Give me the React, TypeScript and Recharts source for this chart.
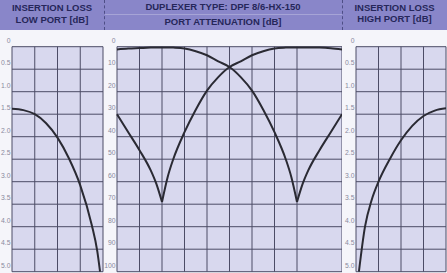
import React from "react";
import { LineChart, Line, XAxis, YAxis, CartesianGrid } from "recharts";

// insertion loss, low port (x in grid cells 0..4, dB)
const lowX = [0, 0.5, 1, 1.5, 2, 2.5, 3, 3.5, 3.75, 3.87];
const lowLoss = [1.38, 1.41, 1.5, 1.7, 2.02, 2.48, 3.08, 3.95, 4.55, 5.0];

// port attenuation (x in grid cells 0..10, dB)
const midX = [0, 0.5, 1, 1.5, 1.75, 2, 2.25, 2.5, 3, 3.5, 4, 4.5, 5, 5.5, 6, 6.5, 7, 7.5, 7.75, 8, 8.25, 8.5, 9, 9.5, 10];
const portA = [1.2, 0.8, 0.6, 0.4, 0.35, 0.3, 0.3, 0.4, 0.8, 2.0, 3.8, 6.5, 9, 13.5, 19.5, 28, 38, 50, 58, 69, 61, 55, 46, 38, 30];
const portB = [30, 38, 46, 55, 61, 69, 58, 50, 38, 28, 19.5, 13.5, 9, 6.5, 3.8, 2.0, 0.8, 0.4, 0.3, 0.3, 0.3, 0.3, 0.4, 0.7, 1.2];
const notchA = 8;
const notchB = 2;

// insertion loss, high port
const highX = [0.13, 0.4, 0.7, 1, 1.5, 2, 2.5, 3, 3.5, 4];
const highLoss = [5.0, 4.0, 3.4, 3.0, 2.5, 2.08, 1.76, 1.54, 1.42, 1.37];

const lossTicks = [0, 0.5, 1, 1.5, 2, 2.5, 3, 3.5, 4, 4.5, 5];
const attTicks = [0, 10, 20, 30, 40, 50, 60, 70, 80, 90, 100];
const sideCols = [0, 1, 2, 3, 4];
const midCols = [0, 1, 2, 3, 4, 5, 6, 7, 8, 9, 10];

const lowData = lowX.map((x, i) => ({ x, v: lowLoss[i] }));
const highData = highX.map((x, i) => ({ x, v: highLoss[i] }));
const midData = midX.map((x, i) => ({
  x,
  aL: x <= notchA ? portA[i] : null,
  aR: x >= notchA ? portA[i] : null,
  bL: x <= notchB ? portB[i] : null,
  bR: x >= notchB ? portB[i] : null,
}));

const FONT = "'Liberation Sans', Arial, sans-serif";
const HEAD_BG = "#8986c9";
const HEAD_TXT = "#26275a";
const PLOT_BG = "#d8d8ee";
const GRID = "#4c4c66";
const CURVE = "#2a2a33";

const makeTick = (fmt: (v: number) => string) => (props: any) => (
  <text
    x={props.x}
    y={props.y - 6.5}
    textAnchor="end"
    dominantBaseline="central"
    fontSize={6.8}
    fontFamily={FONT}
    fill="#8a8a9e"
  >
    {fmt(props.payload.value)}
  </text>
);

const lossTick = makeTick((v) => (v === 0 ? "0" : v.toFixed(1)));
const attTick = makeTick((v) => String(v));

const curve = (key: string) => (
  <Line
    key={key}
    dataKey={key}
    type="monotone"
    stroke={CURVE}
    strokeWidth={2}
    dot={false}
    connectNulls={false}
    isAnimationActive={false}
  />
);

const Head = ({ left, width, top, text }: { left: number; width: number; top: number; text: string }) => (
  <div
    style={{
      position: "absolute",
      left,
      width,
      top: top - 6,
      height: 12,
      lineHeight: "12px",
      textAlign: "center",
      fontFamily: FONT,
      fontWeight: 700,
      fontSize: 9.5,
      color: HEAD_TXT,
      whiteSpace: "nowrap",
    }}
  >
    {text}
  </div>
);

export default function App() {
  return (
    <div
      style={{
        position: "absolute",
        left: 0,
        top: 0,
        width: 447,
        height: 273,
        background: "#f5f5fa",
        overflow: "hidden",
      }}
    >
      <div style={{ position: "absolute", left: 0, top: 0, width: 447, height: 30, background: HEAD_BG }} />
      <div style={{ position: "absolute", left: 104, top: 0, width: 0, height: 30, borderLeft: "1px dashed #4e4e86" }} />
      <div style={{ position: "absolute", left: 342, top: 0, width: 0, height: 30, borderLeft: "1px dashed #4e4e86" }} />
      <div style={{ position: "absolute", left: 105, top: 14, width: 237, height: 1, background: "rgba(255,255,255,0.25)" }} />

      <Head left={0} width={104} top={8} text="INSERTION LOSS" />
      <Head left={0} width={104} top={20} text="LOW PORT [dB]" />
      <Head left={104} width={238} top={7} text="DUPLEXER TYPE: DPF 8/6-HX-150" />
      <Head left={104} width={238} top={22} text="PORT ATTENUATION [dB]" />
      <Head left={342} width={105} top={7.5} text="INSERTION LOSS" />
      <Head left={342} width={105} top={18.5} text="HIGH PORT [dB]" />

      <div style={{ position: "absolute", left: 0, top: 30 }}>
        <LineChart width={104} height={243} data={lowData} margin={{ top: 16.7, right: 1, bottom: 1.3, left: 0 }}>
          <CartesianGrid stroke={GRID} strokeWidth={1} fill={PLOT_BG} fillOpacity={1} />
          <XAxis dataKey="x" type="number" domain={[0, 4]} ticks={sideCols} hide />
          <YAxis
            type="number"
            domain={[0, 5]}
            reversed
            ticks={lossTicks}
            interval={0}
            width={12}
            tickSize={0}
            tickMargin={1.5}
            axisLine={false}
            tickLine={false}
            tick={lossTick}
          />
          {curve("v")}
        </LineChart>
      </div>

      <div style={{ position: "absolute", left: 103, top: 30 }}>
        <LineChart width={239} height={243} data={midData} margin={{ top: 16.7, right: 0, bottom: 1.3, left: 0 }}>
          <CartesianGrid stroke={GRID} strokeWidth={1} fill={PLOT_BG} fillOpacity={1} />
          <XAxis dataKey="x" type="number" domain={[0, 10]} ticks={midCols} hide />
          <YAxis
            type="number"
            domain={[0, 100]}
            reversed
            ticks={attTicks}
            interval={0}
            width={14}
            tickSize={0}
            tickMargin={1.5}
            axisLine={false}
            tickLine={false}
            tick={attTick}
          />
          {curve("aL")}
          {curve("aR")}
          {curve("bL")}
          {curve("bR")}
        </LineChart>
      </div>

      <div style={{ position: "absolute", left: 342, top: 30 }}>
        <LineChart width={105} height={243} data={highData} margin={{ top: 16.7, right: 1, bottom: 1.3, left: 0 }}>
          <CartesianGrid stroke={GRID} strokeWidth={1} fill={PLOT_BG} fillOpacity={1} />
          <XAxis dataKey="x" type="number" domain={[0, 4]} ticks={sideCols} hide />
          <YAxis
            type="number"
            domain={[0, 5]}
            reversed
            ticks={lossTicks}
            interval={0}
            width={14}
            tickSize={0}
            tickMargin={1.5}
            axisLine={false}
            tickLine={false}
            tick={lossTick}
          />
          {curve("v")}
        </LineChart>
      </div>
    </div>
  );
}
